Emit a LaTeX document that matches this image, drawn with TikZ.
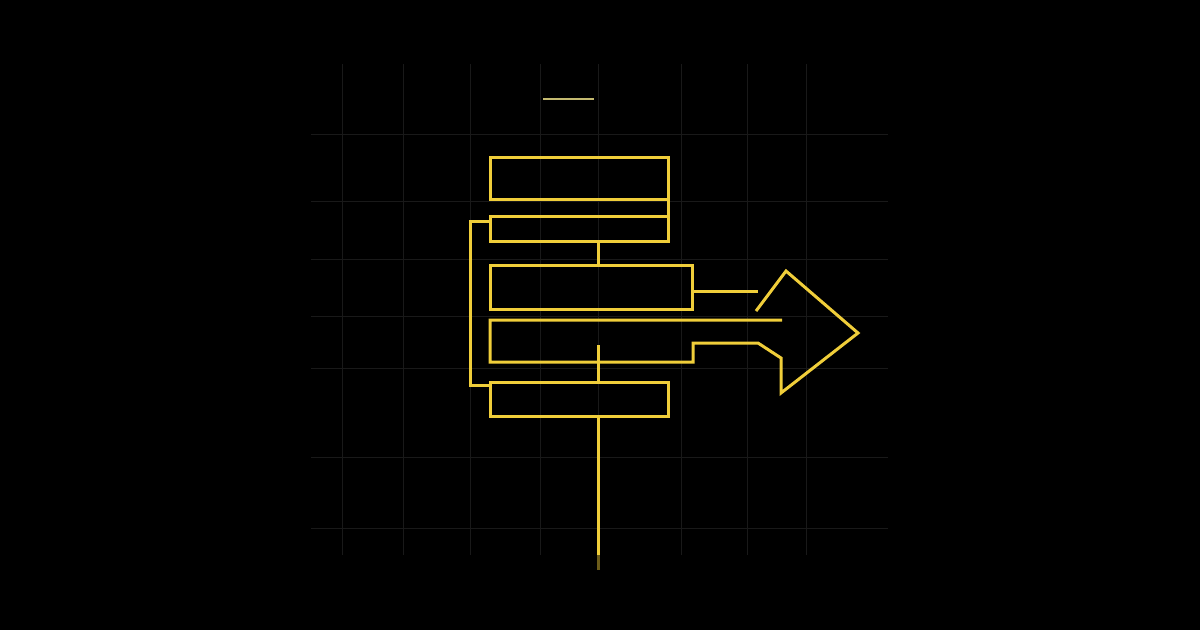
\documentclass[tikz,border=0pt]{standalone}
\usetikzlibrary{positioning}
\definecolor{gold}{RGB}{240,206,58}
\definecolor{paleGold}{RGB}{196,186,112}
\definecolor{gridGray}{RGB}{25,25,25}
\begin{document}
\begin{tikzpicture}[x = 1pt, y = -1pt,
        wire/.style = {color = gold, line width = 3pt},
        box/.style = {draw = gold, line width = 3pt, inner sep = 0pt, outer sep = 0pt, rectangle}]
            \fill [black] (0,0) rectangle (1200,630);
            \useasboundingbox (0,0) rectangle (1200,630);
            \foreach \gx in {342, 403, 470, 540, 598, 681, 747, 806}
                \draw [color = gridGray, line width = 1pt] (\gx,64) -- (\gx,555);
            \foreach \gy in {134, 201, 259, 316, 368, 457, 528}
                \draw [color = gridGray, line width = 1pt] (311,\gy) -- (888,\gy);
            \coordinate (spine) at (598,0);
            \coordinate (cap left) at (543,99);
            \coordinate (cap right) at (594,99);
            \coordinate (stub) at (598,345);
            \coordinate (tail) at (598,555);
            \coordinate (tail end) at (598,570);
            \node [box, minimum width = 178pt, minimum height = 42pt] (head) at (579,178) {};
            \node [box, minimum width = 178pt, minimum height = 25pt] (neck) at (579,228.5) {};
            \node [box, minimum width = 202pt, minimum height = 44pt] (upper) at (591,287) {};
            \node [box, minimum width = 178pt, minimum height = 34pt] (base) at (579,399) {};
            \draw [color = paleGold, line width = 2pt] (cap left) -- (cap right);
            \draw [wire] (head.south east) -- (neck.north east);
            \draw [wire] (neck.south -| spine) -- (upper.north -| spine);
            \draw [wire] ([yshift = -5pt]neck.north west) -- ++(-20,0) |- ([yshift = -3pt]base.north west);
            \draw [wire] ([yshift = -4pt]upper.east) -- ++(66,0);
            % lower box running into the arrow
            \draw [wire] (782,320) -- (490,320) -- (490,362) -- (693,362) -- (693,343) -- (758,343)
                -- (781,358) -- (781,393) -- (858,333) -- (786,271) -- (756,311);
            \draw [wire] (stub) -- (base.north -| spine);
            \draw [wire] (base.south -| spine) -- (tail);
            \draw [wire, opacity = 0.45] (tail) -- (tail end);
        \end{tikzpicture}
\end{document}
